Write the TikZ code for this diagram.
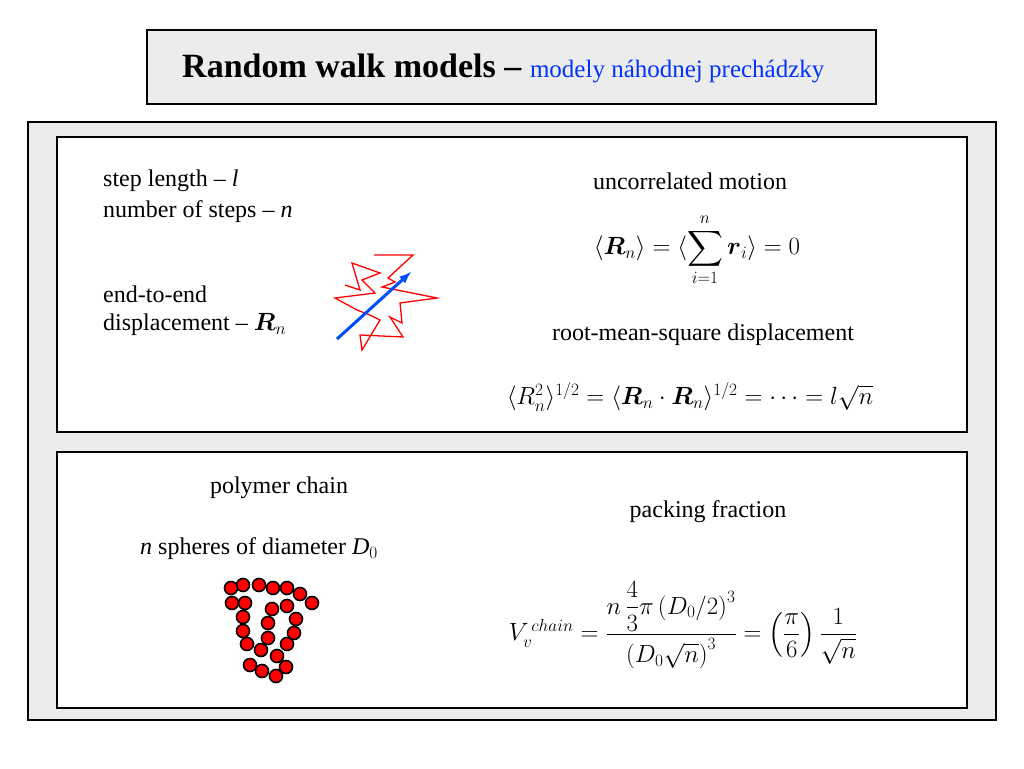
\documentclass[tikz,border=0pt]{standalone}
\usepackage{amsmath}
\usepackage{fontspec}
\setmainfont{Liberation Serif}
\usetikzlibrary{positioning}

\begin{document}
\begin{tikzpicture}[
    x=1pt, y=-1pt,
    panel/.style={draw, line width=1.6pt, fill=gray!15},
    inner/.style={draw, line width=1.3pt, fill=white},
    txt/.style={anchor=west, inner sep=0pt, font=\fontsize{24}{28}\selectfont, align=left},
    formula/.style={inner sep=0pt, font=\fontsize{24}{28}\selectfont},
    bead/.style={circle, draw, line width=1.6pt, fill=red, minimum size=13pt, inner sep=0pt}
]
\useasboundingbox (0,0) rectangle (1024,768);

% Frames
\draw[panel] (147,30) rectangle (876,104);
\draw[panel] (28,122) rectangle (996,720);
\draw[inner] (57,137) rectangle (967,432);
\draw[inner] (57,452) rectangle (967,708);

% Title
\node[anchor=west, inner sep=0pt] (title) at (182,68) {\fontsize{34}{38}\selectfont\textbf{Random walk models --} {\color{blue!80!cyan}\fontsize{25}{28}\selectfont modely náhodnej prechádzky}};

% Upper panel
\node[txt] (steplen) at (103,181) {step length -- \textit{l}};
\node[txt] (nsteps) at (103,212) {number of steps -- \textit{n}};
\node[txt] (endtoend) at (103,294) {end-to-end};
\node[txt] (displ) at (103,325) {displacement -- $\boldsymbol{R}_n$};
\node[formula] (uncorr) at (690,181) {uncorrelated motion};
\node[formula] (meanR) at (697,250) {$\langle \boldsymbol{R}_n\rangle = \langle \displaystyle\sum_{i=1}^{n} \boldsymbol{r}_i\rangle = 0$};
\node[formula] (rms) at (703,335) {root-mean-square displacement};
\node[formula] (rmsR) at (690,397) {$\langle R_n^2\rangle^{1/2} = \langle \boldsymbol{R}_n\cdot\boldsymbol{R}_n\rangle^{1/2} = \cdots = l\sqrt{n}$};

% Random walk
\draw[red, line width=1.3pt, line join=miter] (374,255) -- (413,255) -- (388,278) -- (395,282) -- (382,287)
  -- (437,298) -- (400,303) -- (402,323) -- (390,317) -- (403,337) -- (360,335) -- (362,350) -- (380,320)
  -- (370,315) -- (357,310) -- (335,298) -- (375,293) -- (362,280) -- (380,273) -- (352,263)
  -- (360,290) -- (345,285);
\draw[blue!70!cyan, line width=3pt, -latex] (337,339) -- (411,272);

% Lower panel
\node[formula] (chain) at (279,488) {polymer chain};
\node[txt] (spheres) at (140,549) {\textit{n} spheres of diameter \textit{D}$_0$};
\node[formula] (packing) at (708,512) {packing fraction};
\node[formula] (Vchain) at (683,625) {$V_v^{\,chain} = \dfrac{n\,\dfrac{4}{3}\pi\left(D_0/2\right)^3}{\left(D_0\sqrt{n}\right)^3} = \left(\dfrac{\pi}{6}\right)\dfrac{1}{\sqrt{n}}$};

% Polymer beads
\foreach \px/\py [count=\k] in {312/603, 300/594, 287/588, 273/588, 259/585, 243/585, 231/588,
    232/603, 245/603, 243/617, 243/631, 247/644, 261/650, 250/665, 262/671, 276/676, 286/667,
    277/656, 287/644, 294/633, 296/619, 287/606, 272/609, 268/623, 268/638}
  \node[bead] (b\k) at (\px,\py) {};

\end{tikzpicture}
\end{document}
